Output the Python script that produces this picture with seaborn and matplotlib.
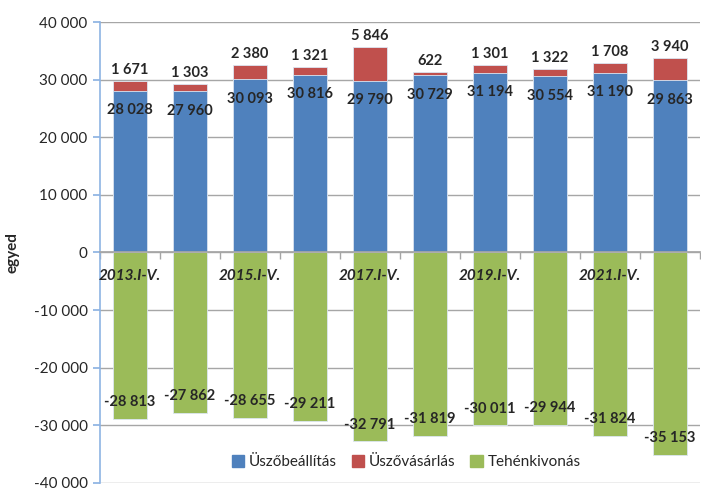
import matplotlib
matplotlib.use("Agg")
import matplotlib.pyplot as plt
import matplotlib.transforms as mtransforms
import seaborn as sns
import pandas as pd
import numpy as np
from matplotlib.patches import Patch

categories = ["2013.I-V.", "2014.I-V.", "2015.I-V.", "2016.I-V.", "2017.I-V.",
              "2018.I-V.", "2019.I-V.", "2020.I-V.", "2021.I-V.", "2022.I-V."]
uszobeallitas = [28028, 27960, 30093, 30816, 29790, 30729, 31194, 30554, 31190, 29863]
uszovasarlas = [1671, 1303, 2380, 1321, 5846, 622, 1301, 1322, 1708, 3940]
tehenkivonas = [-28813, -27862, -28655, -29211, -32791, -31819, -30011, -29944, -31824, -35153]
yticks = [-40000, -30000, -20000, -10000, 0, 10000, 20000, 30000, 40000]

sns.set_theme(style="white")
plt.rcParams['font.family'] = ['Lato', 'DejaVu Sans']

c_blue, c_red, c_green = "#4F81BD", "#C0504D", "#9BBB59"

df = pd.DataFrame({"cat": categories, "b": uszobeallitas, "r": uszovasarlas, "g": tehenkivonas})
df["tot"] = df["b"] + df["r"]

fig = plt.figure(figsize=(7.01, 4.90), dpi=100)
ax = fig.add_axes([0.1427, 0.0143, 0.856, 0.9408])

bw = 0.57
sns.barplot(data=df, x="cat", y="tot", color=c_red, saturation=1, width=bw, ax=ax, zorder=3)
sns.barplot(data=df, x="cat", y="b", color=c_blue, saturation=1, width=bw, ax=ax, zorder=3)
sns.barplot(data=df, x="cat", y="g", color=c_green, saturation=1, width=bw, ax=ax, zorder=3)
for p in ax.patches:
    p.set_edgecolor("#DCE6F2")
    p.set_linewidth(0.6)

ax.set_ylim(-40000, 40000)
ax.set_xlim(-0.5, len(categories) - 0.5)
ax.set_yticks(yticks)
ax.set_yticklabels([f"{v:,}".replace(",", " ") for v in yticks], fontsize=11)
ax.yaxis.grid(True, color="#A6A6A6", linewidth=1, zorder=0)
ax.set_axisbelow(True)

fmt = lambda v: f"{v:,}".replace(",", " ")
for i in range(len(categories)):
    ax.annotate(fmt(uszobeallitas[i]), (i, uszobeallitas[i]), xytext=(0, -14), textcoords="offset points",
                ha="center", va="center", fontsize=10.5, fontweight="bold", zorder=5)
    ax.annotate(fmt(uszovasarlas[i]), (i, uszobeallitas[i] + uszovasarlas[i]), xytext=(0, 8), textcoords="offset points",
                ha="center", va="center", fontsize=10.5, fontweight="bold", zorder=5)
    ax.annotate(fmt(tehenkivonas[i]), (i, tehenkivonas[i]), xytext=(0, 12), textcoords="offset points",
                ha="center", va="center", fontsize=10.5, fontweight="bold", zorder=5)

# x axis at zero
ax.spines['bottom'].set_position(('data', 0))
ax.spines['bottom'].set_color("#A6A6A6")
ax.spines['bottom'].set_zorder(4)
ax.spines['top'].set_visible(False)
ax.spines['right'].set_visible(False)
ax.spines['left'].set_color("#8EB4E3")
ax.spines['left'].set_linewidth(1.2)

ax.set_xticks(range(len(categories)))
ax.set_xticklabels([])
ax.set_xticks(np.arange(-0.5, len(categories), 1.0), minor=True)
ax.tick_params(axis="x", which="major", length=0)
ax.tick_params(axis="x", which="minor", length=5, color="#A6A6A6", direction="out", bottom=True)
ax.tick_params(axis="y", length=5, color="#8EB4E3", direction="out", left=True, pad=4)
ax.set_xlabel("")
ax.set_ylabel("egyed", fontsize=11, fontweight="bold", labelpad=10)

for i, c in enumerate(categories):
    if i % 2 == 0:
        ax.annotate(c, (i, 0), xytext=(0, -17), textcoords="offset points", ha="center", va="center",
                    fontsize=11, fontweight="bold", fontstyle="italic", zorder=6)

handles = [Patch(color=c_blue, label="Üszőbeállítás"),
           Patch(color=c_red, label="Üszővásárlás"),
           Patch(color=c_green, label="Tehénkivonás")]
ax.legend(handles=handles, loc="lower center", bbox_to_anchor=(0.51, 0.0), ncol=3, frameon=False,
          fontsize=11, handlelength=0.8, handleheight=0.8, handletextpad=0.3, columnspacing=1.0)

fig.savefig("out.png", dpi=100)
